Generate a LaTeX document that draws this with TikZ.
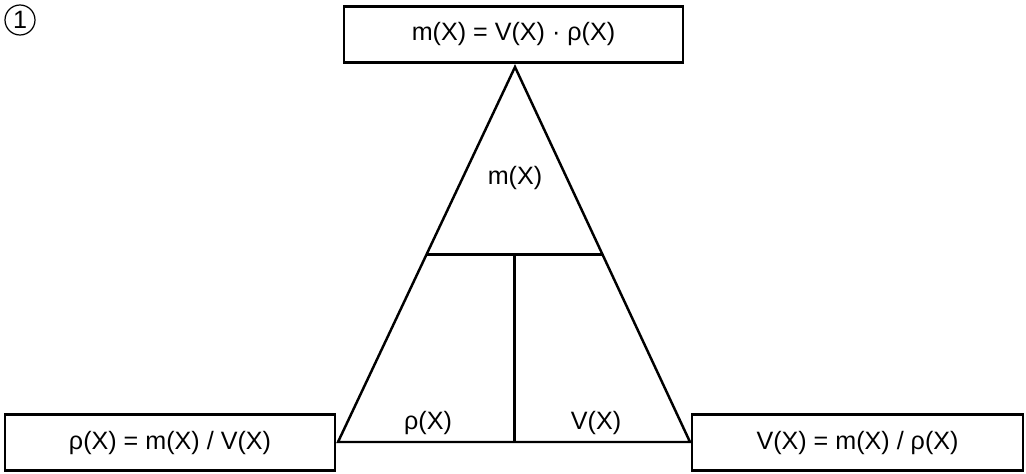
\documentclass[tikz,border=0pt]{standalone}
\usepackage{fontspec}
\setmainfont{Liberation Sans}
\usetikzlibrary{calc}
\tikzset{
  formbox/.style={draw=black, line width=1.3pt, fill=white,
                  minimum height=1.12cm, inner sep=0pt,
                  font=\fontsize{14.3}{17}\selectfont},
  trilabel/.style={inner sep=0pt, font=\fontsize{14.3}{17}\selectfont},
  triline/.style={line width=1.4pt, line join=miter}
}

\begin{document}
\begin{tikzpicture}[x=0.02cm,y=-0.02cm,
   numbadge/.style={circle, draw=black, line width=0.7pt,
                    minimum size=0.6cm, inner sep=0pt,
                    font=\fontsize{14.3}{17}\selectfont}]
  \useasboundingbox (0,0) rectangle (1026,473);

  % Badge
  \node[numbadge] (badge) at (20,20) {1};

  % Formula boxes
  \node[formbox,minimum width=6.78cm] (mbox) at (513.5,34.5) {m(X) = V(X) · ρ(X)};
  \node[formbox,minimum width=6.6cm] (rhobox) at (170,442.5) {ρ(X) = m(X) / V(X)};
  \node[formbox,minimum width=6.62cm] (vbox) at (857.5,442.5) {V(X) = m(X) / ρ(X)};

  % Triangle corners
  \coordinate (apex) at (515,67);
  \coordinate (left) at (338,442);
  \coordinate (right) at (690,442);

  % Triangle and its inner lines
  \draw[triline] (apex) -- (left) -- (right) -- cycle;
  \draw[triline] ($(apex)!0.5!(left)$) coordinate (ml)
     -- ($(apex)!0.5!(right)$) coordinate (mr);
  \draw[triline] ($(ml)!0.5!(mr)$) coordinate (mid) -- (mid |- left);

  % Labels in the triangle
  \node[trilabel] (mlab) at (515,178) {m(X)};
  \node[trilabel] (rholab) at (428,423) {ρ(X)};
  \node[trilabel] (vlab) at (596,423) {V(X)};
\end{tikzpicture}
\end{document}
